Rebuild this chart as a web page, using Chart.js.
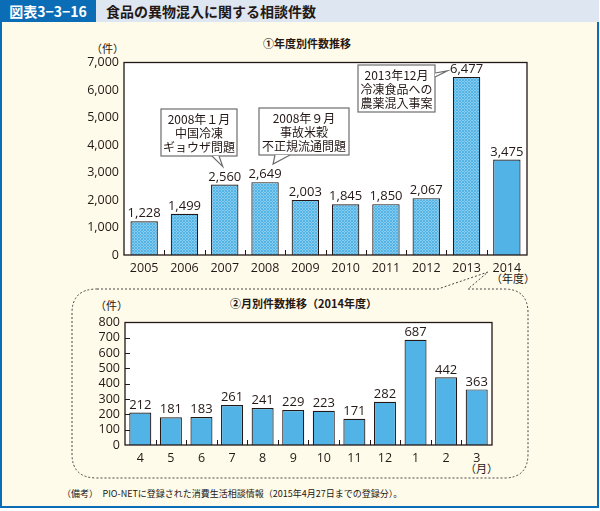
<!DOCTYPE html>
<html>
<head>
<meta charset="utf-8">
<script src="https://cdn.jsdelivr.net/npm/chart.js@4.4.0/dist/chart.umd.min.js"></script>
<style>
body{margin:0;width:600px;height:511px;background:#fff;position:relative;overflow:hidden;font-family:"Open Sans","Noto Sans CJK JP",sans-serif;color:#231815}
#frame{position:absolute;left:0;top:0;width:595px;height:506px;border:2px solid #0b6db5;border-top:none;background:#fffbea}
#hdr{position:absolute;left:0;top:0;width:599px;height:22px;background:#dde6f1}
#hdr .no{position:absolute;left:0;top:0;width:96px;height:22px;background:#0b6db5;color:#fff;font:bold 14px "Noto Sans CJK JP";line-height:22px;text-align:center}
#hdr .ttl{position:absolute;left:106px;top:0;font:bold 14px "Noto Sans CJK JP";line-height:22px;color:#231815}
.t{position:absolute;white-space:nowrap;font-family:"Noto Sans CJK JP";color:#231815}
canvas{position:absolute}
svg{position:absolute;left:0;top:0}
</style>
</head>
<body>
<div id="frame"></div>
<div id="hdr"><div class="no">図表3−3−16</div><div class="ttl">食品の異物混入に関する相談件数</div></div>

<svg width="600" height="511">
  <path d="M97 289 L438 289 L488 272 L468 289 L504 289 Q528 289 528 313 L528 454 Q528 478 504 478 L97 478 Q72 478 72 454 L72 313 Q72 289 97 289 Z"
        fill="none" stroke="#444" stroke-width="1" stroke-dasharray="2,2"/>
</svg>

<div class="t" style="left:263px;top:35px;font-size:11px;font-weight:bold">①年度別件数推移</div>
<div class="t" style="left:91px;top:40px;font-size:11px">（件）</div>
<div class="t" style="left:491px;top:270px;font-size:11px">（年度）</div>
<div class="t" style="left:230px;top:295px;font-size:11px;font-weight:bold">②月別件数推移（2014年度）</div>
<div class="t" style="left:95px;top:297px;font-size:11px">（件）</div>
<div class="t" style="left:465px;top:460px;font-size:11px">（月）</div>
<div class="t" style="left:62px;top:487px;font-size:9px">（備考）　PIO-NETに登録された消費生活相談情報（2015年4月27日までの登録分）。</div>

<canvas id="yearChart" style="left:64px;top:50px" width="470" height="235"></canvas>
<canvas id="monthChart" style="left:64px;top:310px" width="440" height="160"></canvas>

<script>
var years = ["2005", "2006", "2007", "2008", "2009", "2010", "2011", "2012", "2013", "2014"];
var yearCounts = [1228, 1499, 2560, 2649, 2003, 1845, 1850, 2067, 6477, 3475];
var months = ["4", "5", "6", "7", "8", "9", "10", "11", "12", "1", "2", "3"];
var monthCounts = [212, 181, 183, 261, 241, 229, 223, 171, 282, 687, 442, 363];
var yearMax = 7000, yearStep = 1000;
var monthMax = 800, monthStep = 100;

var solidBlue = "#52b4e6";
var ink = "#231815";

Chart.defaults.font.family = "'Open Sans', 'Noto Sans CJK JP', sans-serif";
Chart.defaults.color = ink;

function hatch(){
    var c = document.createElement("canvas");
    c.width = 3; c.height = 3;
    var g = c.getContext("2d");
    g.fillStyle = "#d2ecf9";
    g.fillRect(0, 0, 3, 3);
    g.strokeStyle = "#4fb2e5";
    g.lineWidth = 1.1;
    g.beginPath();
    g.moveTo(-1, 2); g.lineTo(2, -1);
    g.moveTo(0, 3); g.lineTo(3, 0);
    g.moveTo(1, 4); g.lineTo(4, 1);
    g.stroke();
    return g.createPattern(c, "repeat");
}
var hatchFill = hatch();

// callout boxes for top chart (tip is taken from the bar it points at)
var notes = [
    {bar: 2, lines: ["2008年１月", "中国冷凍", "ギョウザ問題"], box: [97, 59, 76, 47], base: [[148, 106], [155, 106]], dx: -2, dy: -18},
    {bar: 3, lines: ["2008年９月", "事故米穀", "不正規流通問題"], box: [195, 58, 90, 47], base: [[211, 105], [226, 105]], dx: 8, dy: -18},
    {bar: 8, lines: ["2013年12月", "冷凍食品への", "農薬混入事案"], box: [294, 15, 77, 47], base: [[371, 23], [371, 27]], dx: -19, dy: -6}
];

function decoPlugin(cfg){
    return {
        id: "deco",
        beforeDatasetsDraw: function(chart){
            var a = chart.chartArea;
            chart.ctx.save();
            chart.ctx.fillStyle = "#fff";
            chart.ctx.fillRect(a.left, a.top, a.right - a.left, a.bottom - a.top);
            chart.ctx.restore();
        },
        afterDatasetsDraw: function(chart){
            var ctx = chart.ctx, a = chart.chartArea;
            var xs = chart.scales.x, ys = chart.scales.y;
            var data = chart.data.datasets[0].data;
            ctx.save();
            // frame
            ctx.strokeStyle = ink;
            ctx.lineWidth = 1.3;
            ctx.strokeRect(a.left, a.top, a.right - a.left, a.bottom - a.top);
            // inward category ticks
            ctx.lineWidth = 1;
            var half = (xs.getPixelForValue(1) - xs.getPixelForValue(0)) / 2;
            for (var i = 1; i < data.length; i++) {
                var x = Math.round(xs.getPixelForValue(i) - half) + 0.5;
                ctx.beginPath(); ctx.moveTo(x, a.bottom); ctx.lineTo(x, a.bottom - 5); ctx.stroke();
            }
            if (cfg.yTicks) {
                for (var v = cfg.step; v < cfg.max; v += cfg.step) {
                    var y = Math.round(ys.getPixelForValue(v)) + 0.5;
                    ctx.beginPath(); ctx.moveTo(a.left, y); ctx.lineTo(a.left + 5, y); ctx.stroke();
                }
            }
            // value labels
            ctx.fillStyle = ink;
            ctx.font = "13px 'Open Sans'";
            ctx.textAlign = "center";
            ctx.textBaseline = "bottom";
            data.forEach(function(v, i){
                ctx.fillText(v.toLocaleString("en-US"), xs.getPixelForValue(i), ys.getPixelForValue(v) - 1);
            });
            // callouts
            (cfg.notes || []).forEach(function(n){
                var tx = xs.getPixelForValue(n.bar) + n.dx;
                var ty = ys.getPixelForValue(data[n.bar]) + n.dy;
                var b = n.box;
                ctx.fillStyle = "#fff";
                ctx.strokeStyle = "#6d6d6d";
                ctx.lineWidth = 1.2;
                ctx.fillRect(b[0], b[1], b[2], b[3]);
                ctx.strokeRect(b[0], b[1], b[2], b[3]);
                ctx.beginPath();
                ctx.moveTo(n.base[0][0], n.base[0][1]);
                ctx.lineTo(tx, ty);
                ctx.lineTo(n.base[1][0], n.base[1][1]);
                ctx.closePath();
                ctx.fill();
                ctx.beginPath();
                ctx.moveTo(n.base[0][0], n.base[0][1]);
                ctx.lineTo(tx, ty);
                ctx.lineTo(n.base[1][0], n.base[1][1]);
                ctx.stroke();
                ctx.fillStyle = ink;
                ctx.font = "12px 'Noto Sans CJK JP'";
                ctx.textBaseline = "middle";
                n.lines.forEach(function(t, k){
                    ctx.fillText(t, b[0] + b[2] / 2, b[1] + 10 + k * 14);
                });
            });
            ctx.restore();
        }
    };
}

function barOptions(max, step, yWidth, xHeight, pad){
    return {
        responsive: false,
        animation: false,
        layout: {padding: pad},
        plugins: {legend: {display: false}, tooltip: {enabled: false}},
        scales: {
            x: {
                grid: {display: false, drawTicks: false},
                border: {display: false},
                ticks: {padding: 6, font: {size: 12.5}, color: ink, autoSkip: false, maxRotation: 0},
                afterFit: function(s){ s.height = xHeight; }
            },
            y: {
                min: 0, max: max,
                grid: {display: false, drawTicks: false},
                border: {display: false},
                ticks: {stepSize: step, padding: 5, font: {size: 12.5}, color: ink, autoSkip: false,
                    callback: function(v){ return v.toLocaleString("en-US"); }},
                afterFit: function(s){ s.width = yWidth; }
            }
        }
    };
}

var yearColors = yearCounts.map(function(v, i){ return i == yearCounts.length - 1 ? solidBlue : hatchFill; });

new Chart(document.getElementById("yearChart").getContext("2d"), {
    type: "bar",
    data: {
        labels: years,
        datasets: [{
            data: yearCounts,
            backgroundColor: yearColors,
            borderColor: ink,
            borderWidth: 1.2,
            categoryPercentage: 1,
            barPercentage: 0.68
        }]
    },
    options: barOptions(yearMax, yearStep, 60, 30, {top: 2, right: 7, left: 0, bottom: 0}),
    plugins: [decoPlugin({notes: notes, yTicks: false})]
});

new Chart(document.getElementById("monthChart").getContext("2d"), {
    type: "bar",
    data: {
        labels: months,
        datasets: [{
            data: monthCounts,
            backgroundColor: solidBlue,
            borderColor: ink,
            borderWidth: 1.2,
            categoryPercentage: 1,
            barPercentage: 0.72
        }]
    },
    options: barOptions(monthMax, monthStep, 61, 25, {top: 4, right: 12, left: 0, bottom: 0}),
    plugins: [decoPlugin({yTicks: true, max: monthMax, step: monthStep})]
});
</script>
</body>
</html>
